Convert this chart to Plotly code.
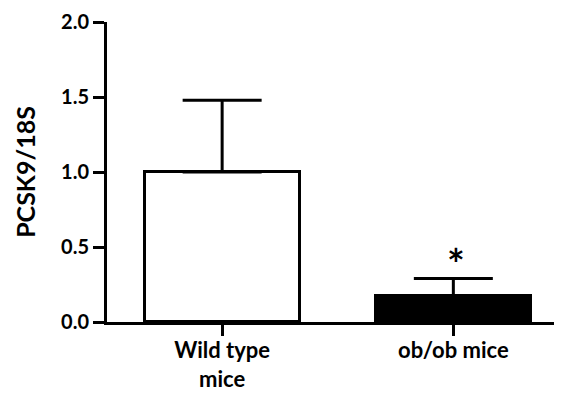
import plotly.graph_objects as go

categories = ["Wild type<br>mice", "ob/ob mice"]
values = [1.0, 0.175]
errors = [0.478, 0.115]
fills = ["white", "black"]
y_ticks = [0.0, 0.5, 1.0, 1.5, 2.0]
y_tick_labels = ["0.0", "0.5", "1.0", "1.5", "2.0"]

FONT = "Lato"

fig = go.Figure()
fig.add_trace(go.Bar(
    x=[0, 1], y=values, width=0.67,
    marker=dict(color=fills, line=dict(color="black", width=3)),
    error_y=dict(type="data", symmetric=False, array=errors, arrayminus=[0, 0],
                 color="black", thickness=3, width=39.5),
    showlegend=False,
))

fig.add_annotation(x=1, y=values[1] + errors[1], text="*", showarrow=False,
                   yanchor="bottom", xshift=3, yshift=-12,
                   font=dict(family=FONT, size=42, color="black", weight="bold"))

# page body has an 8px margin, so the figure is sized/offset to compensate
fig.update_layout(
    width=554, height=387,
    margin=dict(l=99, r=0, t=14, b=73, autoexpand=False),
    paper_bgcolor="white", plot_bgcolor="white",
    bargap=0,
    font=dict(family=FONT, color="black"),
)
fig.update_xaxes(
    range=[-0.498, 1.47], tickvals=[0, 1], ticktext=categories,
    showline=True, linecolor="black", linewidth=3,
    ticks="outside", ticklen=11, tickwidth=3, tickcolor="black",
    tickfont=dict(family=FONT, size=22, weight="bold"),
    ticklabelstandoff=-4,
    showgrid=False, zeroline=False, automargin=False,
)
fig.update_yaxes(
    range=[0, 2], tickvals=y_ticks, ticktext=y_tick_labels,
    showline=True, linecolor="black", linewidth=3,
    ticks="outside", ticklen=11, tickwidth=3, tickcolor="black",
    tickfont=dict(family=FONT, size=20, weight="bold"),
    title=dict(text="PCSK9/18S", font=dict(family=FONT, size=25, weight="bold"), standoff=19),
    showgrid=False, zeroline=False, automargin=False,
)

fig.write_html("out.html")
